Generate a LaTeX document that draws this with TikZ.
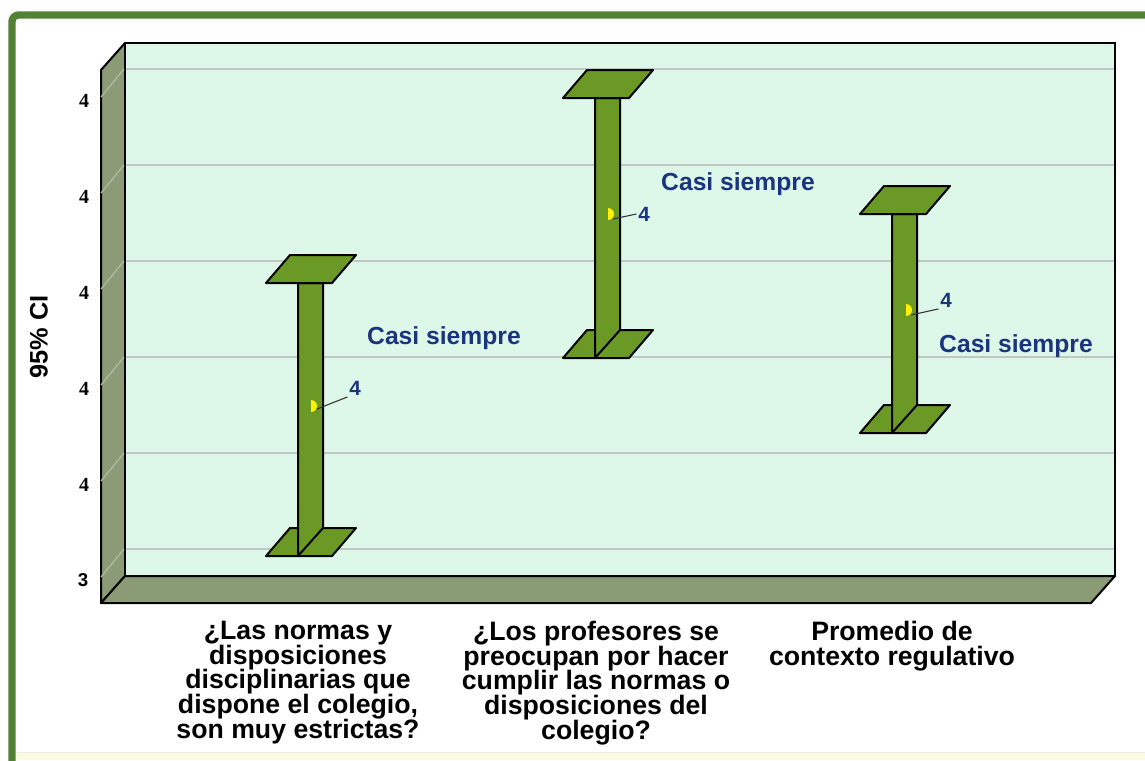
\documentclass[tikz,border=0pt]{standalone}
\usepackage{fontspec}
\setmainfont{Liberation Sans}
\newfontfamily\tickserif{Liberation Serif}
\newcommand\catfont{\bfseries\fontsize{20}{18.6}\selectfont\lineskiplimit -30pt\relax}

\definecolor{framegreen}{RGB}{84,130,53}
\definecolor{wallmint}{RGB}{221,247,233}
\definecolor{wallside}{RGB}{138,155,117}
\definecolor{bargreen}{RGB}{107,153,38}
\definecolor{gridgray}{RGB}{192,200,195}
\definecolor{sidegrid}{RGB}{175,185,165}
\definecolor{labelblue}{RGB}{26,52,125}
\definecolor{markyellow}{RGB}{255,240,0}
\definecolor{stripcream}{RGB}{252,250,224}

\tikzset{every picture/.style={line width=0.75pt}}
\tikzset{
  solidwall/.style={fill=wallside, draw=black, line width=1.5pt, line join=round},
  backwall/.style={fill=wallmint, draw=black, line width=1.5pt},
  gridline/.style={draw=gridgray, line width=1.2pt},
  sidegridline/.style={draw=sidegrid, line width=1pt},
  barpart/.style={fill=bargreen, draw=black, line width=1.5pt, line join=round},
  meanmark/.style={fill=markyellow},
  leader/.style={draw=black!80, line width=0.8pt},
  vallabel/.style={text=labelblue, font=\bfseries\fontsize{15.5}{18}\selectfont, inner sep=1pt},
  catvalue/.style={text=labelblue, font=\bfseries\fontsize{18.5}{22}\selectfont},
  ticklabel/.style={font=\tickserif\bfseries\fontsize{15}{18}\selectfont},
  catlabel/.style={align=center, anchor=north, font=\catfont}
}

\begin{document}
\begin{tikzpicture}[x=0.75pt,y=0.75pt,yscale=-1,xscale=1]
\useasboundingbox (0,0) rectangle (1145,760);

%Shape: Frame
\fill [stripcream] (16,752) rectangle (1145,760) ;
\draw [draw=black!8] (16,752.5) -- (1145,752.5) ;
\draw [framegreen, line width=5.5pt, rounded corners=5] (12,775) -- (12,15) -- (1165,15) ;

%Shape: Side wall and floor
\draw [solidwall] (101,70) -- (125,43) -- (125,576) -- (101,603) -- cycle ;
\draw [solidwall] (101,603) -- (125,576) -- (1115,576) -- (1091,603) -- cycle ;
%Shape: Back wall
\draw [backwall] (125,43) rectangle (1115,576) ;

%Straight Lines: grid
\draw [gridline] (126,69) -- (1114,69) ;
\draw [gridline] (126,165) -- (1114,165) ;
\draw [gridline] (126,261) -- (1114,261) ;
\draw [gridline] (126,357) -- (1114,357) ;
\draw [gridline] (126,453) -- (1114,453) ;
\draw [gridline] (126,549) -- (1114,549) ;
\draw [sidegridline] (124,69) -- (101,97) ;
\draw [sidegridline] (124,165) -- (101,193) ;
\draw [sidegridline] (124,261) -- (101,289) ;
\draw [sidegridline] (124,357) -- (101,385) ;
\draw [sidegridline] (124,453) -- (101,481) ;
\draw [sidegridline] (124,549) -- (101,577) ;

%Shape: Error bar 1
\draw [barpart] (266,556) -- (332,556) -- (356,528) -- (290,528) -- cycle ;
\draw [barpart] (298,283) -- (323,283) -- (323,528) -- (298,556) -- cycle ;
\draw [barpart] (266,283) -- (332,283) -- (356,255) -- (290,255) -- cycle ;
\fill [meanmark] (311,400) -- (311,412) arc [start angle=90, end angle=-90, radius=6] -- cycle ;
\coordinate (mean1) at (317,409) ;

%Shape: Error bar 2
\draw [barpart] (563,358) -- (629,358) -- (653,330) -- (587,330) -- cycle ;
\draw [barpart] (595,98) -- (620,98) -- (620,330) -- (595,358) -- cycle ;
\draw [barpart] (563,98) -- (629,98) -- (653,70) -- (587,70) -- cycle ;
\fill [meanmark] (608,208) -- (608,220) arc [start angle=90, end angle=-90, radius=6] -- cycle ;
\coordinate (mean2) at (613,219) ;

%Shape: Error bar 3
\draw [barpart] (860,433) -- (926,433) -- (950,405) -- (884,405) -- cycle ;
\draw [barpart] (892,214) -- (917,214) -- (917,405) -- (892,433) -- cycle ;
\draw [barpart] (860,214) -- (926,214) -- (950,186) -- (884,186) -- cycle ;
\fill [meanmark] (906,304) -- (906,316) arc [start angle=90, end angle=-90, radius=6] -- cycle ;
\coordinate (mean3) at (911,315) ;

% Text Node
\node (val1) at (355,388) [vallabel] {4};
% Text Node
\node (val2) at (644,214) [vallabel] {4};
% Text Node
\node (val3) at (946,300) [vallabel] {4};
%Straight Lines: leaders
\draw [leader] (mean1) -- (val1.south west) ;
\draw [leader] (mean2) -- (val2.west) ;
\draw [leader] (mean3) -- (val3.south west) ;

% Text Node
\node (cat1val) at (444,338) [catvalue] {Casi siempre};
% Text Node
\node (cat2val) at (738,184) [catvalue] {Casi siempre};
% Text Node
\node (cat3val) at (1016,346) [catvalue] {Casi siempre};

% Text Node
\node (tick1) at (84,101) [ticklabel] {4};
% Text Node
\node (tick2) at (84,197) [ticklabel] {4};
% Text Node
\node (tick3) at (84,293) [ticklabel] {4};
% Text Node
\node (tick4) at (84,389) [ticklabel] {4};
% Text Node
\node (tick5) at (84,485) [ticklabel] {4};
% Text Node
\node (tick6) at (83,580) [font=\bfseries\fontsize{14}{17}\selectfont] {3};
% Text Node
\node (yaxis) at (39,337) [rotate=90, font=\bfseries\fontsize{19}{22}\selectfont] {95\% CI};

% Text Node
\node (cat1) at (298,616) [catlabel] {¿Las normas y\\disposiciones\\disciplinarias que\\dispone el colegio,\\son muy estrictas?};
% Text Node
\node (cat2) at (596,616) [catlabel] {¿Los profesores se\\preocupan por hacer\\cumplir las normas o\\disposiciones del\\colegio?};
% Text Node
\node (cat3) at (892,616) [catlabel] {Promedio de\\contexto regulativo};

\end{tikzpicture}
\end{document}
